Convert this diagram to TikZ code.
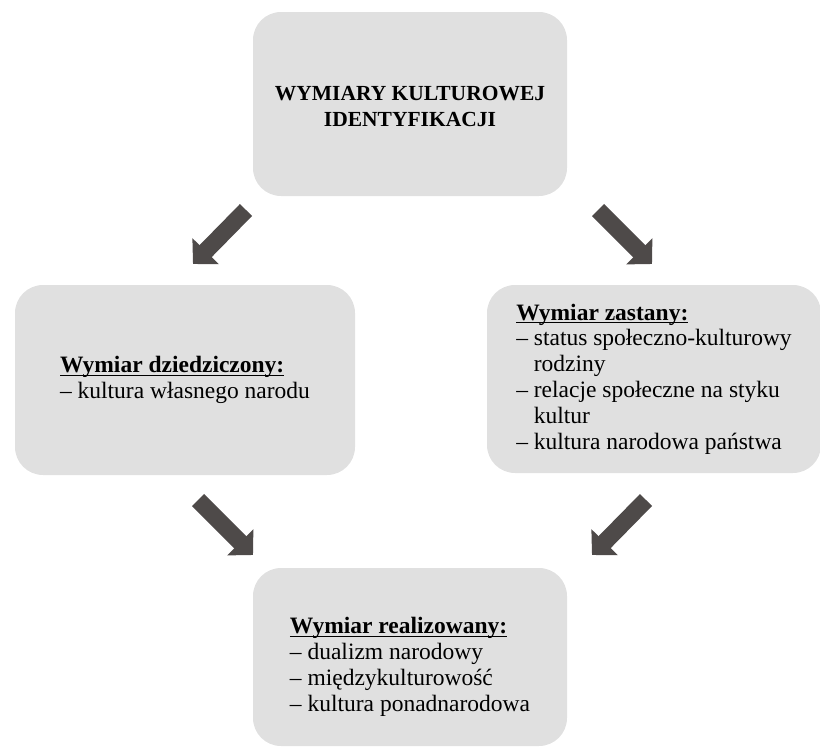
\documentclass[tikz,border=0pt]{standalone}
\usepackage{fontspec}
\setmainfont{Liberation Serif}
\usetikzlibrary{arrows.meta, calc}

\definecolor{boxgray}{RGB}{224,224,224}
\definecolor{arrowgray}{RGB}{78,74,73}
\newcommand{\dimhead}[1]{\setbox0\hbox{\textbf{#1}}\rlap{\rule[-3pt]{\wd0}{1.2pt}}\box0}
\newcommand{\dimindent}{\phantom{– }}

\begin{document}
\begin{tikzpicture}[x=1pt, y=-1pt,
    dimbox/.style={fill=boxgray, rounded corners=28pt, inner sep=0pt, align=left,
        font=\fontsize{23.5}{25.8}\selectfont},
    fatarrow/.style={draw=arrowgray, line width=17pt,
        -{Triangle[length=18pt,width=36pt]}}]
    \useasboundingbox (0,0) rectangle (820,753);

    % Boxes
    \node[dimbox, minimum width=314pt, minimum height=184pt, align=center,
        font=\bfseries\fontsize{21.5}{26}\selectfont] (top) at (410,104)
        {\rule{0pt}{19pt}WYMIARY KULTUROWEJ\\IDENTYFIKACJI};
    \node[dimbox, minimum width=340pt, minimum height=190pt] (left) at (185,380)
        {\dimhead{Wymiar dziedziczony:}\\– kultura własnego narodu};
    \node[dimbox, minimum width=334pt, minimum height=188pt] (right) at (654,379)
        {\dimhead{Wymiar zastany:}\\– status społeczno-kulturowy\\\dimindent rodziny\\
         – relacje społeczne na styku\\\dimindent kultur\\– kultura narodowa państwa};
    \node[dimbox, minimum width=314pt, minimum height=178pt] (bottom) at (410,657)
        {\rule{0pt}{36pt}\dimhead{Wymiar realizowany:}\\– dualizm narodowy\\– międzykulturowość\\
         – kultura ponadnarodowa};

    % Arrow ends
    \coordinate (a1s) at (246,210);
    \coordinate (a1e) at (193,264);
    \coordinate (a2s) at (598,210);
    \coordinate (a2e) at (652,264);
    \coordinate (a3s) at (198,500);
    \coordinate (a3e) at (253,555);
    \coordinate (a4s) at (646,500);
    \coordinate (a4e) at (592,555);

    % Arrows
    \draw[fatarrow] (a1s) -- (a1e);
    \draw[fatarrow] (a2s) -- (a2e);
    \draw[fatarrow] (a3s) -- (a3e);
    \draw[fatarrow] (a4s) -- (a4e);
\end{tikzpicture}
\end{document}
